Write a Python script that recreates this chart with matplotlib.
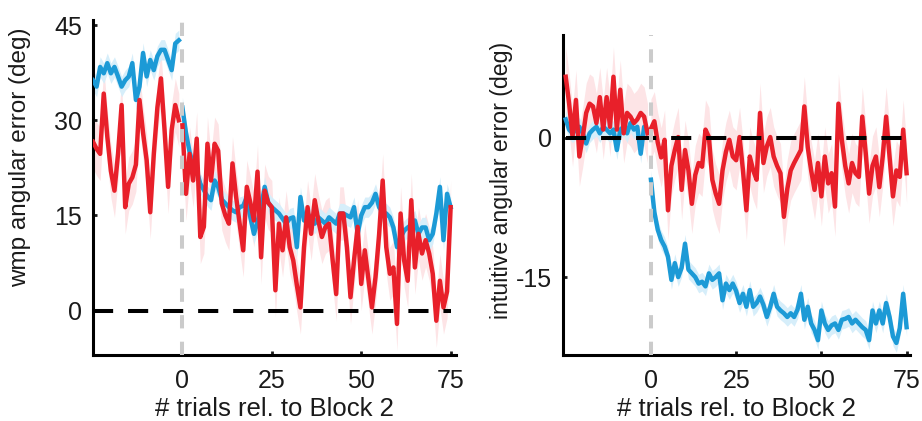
import numpy as np
import matplotlib
matplotlib.use("Agg")
import matplotlib.pyplot as plt

plt.rcParams['font.family'] = ['Liberation Sans', 'DejaVu Sans']
plt.rcParams['axes.unicode_minus'] = False

# trial indices relative to the start of Block 2
trials_pre = list(range(-25, 0))
trials_post = list(range(0, 76))

# wmp angular error (deg)
wmp_blue_pre = [36.3, 35.3, 38.4, 37.4, 39.0, 37.4, 38.4, 36.9, 35.3, 36.3,
                36.9, 39.0, 33.2, 35.3, 40.6, 36.9, 39.5, 37.9, 40.1, 41.1,
                41.1, 39.5, 37.9, 42.1, 42.6]
wmp_blue_post = [32.0, 28.0, 25.0, 23.0, 22.0, 20.0, 19.0, 18.0, 17.4, 20.5,
                 19.5, 17.5, 16.9, 16.3, 15.8, 15.5, 16.3, 16.5, 17.9, 14.7,
                 12.1, 14.0, 16.3, 19.5, 17.0, 16.3, 15.8, 15.3, 14.5, 13.7,
                 14.5, 14.7, 10.0, 17.9, 14.2, 15.3, 14.5, 13.7, 14.7, 14.2,
                 13.7, 14.7, 14.2, 13.7, 15.3, 15.3, 15.0, 14.7, 16.3, 12.1,
                 15.0, 16.3, 16.3, 17.0, 18.4, 16.3, 15.5, 15.3, 14.7, 13.1,
                 10.0, 11.5, 12.6, 13.1, 13.5, 14.2, 12.1, 13.1, 13.1, 11.1,
                 12.1, 15.3, 19.5, 11.1, 18.4, 16.3]
wmp_red_pre = [26.6, 25.5, 24.7, 34.2, 27.4, 22.0, 18.9, 24.7, 32.4, 16.3,
               20.0, 21.0, 23.0, 33.2, 28.0, 23.7, 15.5, 24.7, 32.0, 36.6,
               28.5, 19.5, 28.5, 32.4, 30.0]
wmp_red_post = [29.2, 18.4, 24.7, 20.5, 27.1, 11.6, 13.2, 26.3, 20.5, 26.3,
                25.2, 16.9, 15.0, 13.7, 23.2, 18.0, 13.7, 9.5, 19.5, 17.0,
                14.2, 21.9, 8.4, 18.9, 17.0, 16.3, 3.2, 13.7, 9.5, 14.7,
                10.0, 7.9, 4.0, 0.5, 10.0, 16.3, 12.1, 17.4, 14.2, 11.6,
                13.2, 13.7, 8.0, 2.6, 15.3, 15.3, 10.0, 2.1, 8.0, 13.2,
                4.2, 9.5, 5.0, 0.5, 5.3, 12.0, 20.5, 10.0, 5.8, 6.8,
                -2.1, 15.3, 7.9, 4.7, 17.4, 6.8, 12.1, 9.0, 11.1, 9.0,
                5.8, -1.6, 4.7, 0.5, 3.0, 16.3]

# intuitive angular error (deg)
int_blue_pre = [2.0, 0.9, 0.5, 0.9, 1.2, 0.5, -0.6, 0.5, 0.9, 1.2,
                0.5, 1.2, 0.9, 0.5, 0.9, -1.3, 0.9, 1.2, 0.5, 1.6,
                0.9, 1.2, -1.7, 1.2, 0.9]
int_blue_post = [-4.5, -8.0, -9.9, -11.0, -11.7, -12.8, -15.3, -13.5, -15.0, -14.0,
                 -11.4, -14.2, -14.6, -15.0, -15.7, -15.5, -16.0, -14.6, -15.3, -15.0,
                 -14.6, -17.5, -15.7, -16.4, -15.7, -16.5, -17.8, -16.8, -18.2, -16.4,
                 -18.2, -17.8, -17.1, -18.0, -19.3, -18.2, -16.8, -18.2, -18.6, -18.9,
                 -19.3, -18.9, -19.3, -18.5, -16.8, -19.6, -18.2, -20.0, -20.7, -21.8,
                 -18.6, -20.0, -20.7, -20.2, -20.0, -20.7, -19.6, -19.5, -19.3, -20.0,
                 -19.6, -20.0, -20.4, -20.7, -21.8, -18.6, -20.0, -18.6, -20.0, -17.8,
                 -19.3, -21.4, -22.1, -20.5, -16.8, -20.4]
int_red_pre = [6.6, 3.7, 0.1, 4.1, -2.0, 0.1, 2.7, 3.7, 3.4, 1.6,
               4.4, 0.9, 4.4, 1.2, 6.6, 0.9, 5.2, 0.5, 2.7, 2.3,
               1.6, 2.0, 2.7, 2.3, 0.5]
int_red_post = [1.0, 1.8, -0.5, -2.1, -0.2, -7.8, -3.0, -1.3, 0.1, -5.6,
                -1.3, -3.5, -7.1, -4.0, -2.7, -3.1, 0.9, 0.1, -4.5, -6.0,
                -7.1, -3.5, -1.5, -0.2, -2.0, -2.4, 0.1, -3.5, -7.8, -2.0,
                -3.5, -4.5, 2.7, -2.7, -0.9, 0.1, -2.0, -3.0, -3.8, -8.5,
                -5.5, -3.5, -2.7, -2.0, -1.3, 3.4, -1.0, -3.5, -5.6, -2.7,
                -6.3, -2.0, -4.9, -3.8, -7.4, 3.7, -0.2, -3.0, -4.9, -2.7,
                -3.8, -4.2, 2.3, -1.6, -6.0, -3.0, -2.0, -5.3, -2.0, 2.3,
                -2.0, -6.3, -3.5, -4.2, 0.9, -3.8]

# standard error half-widths of the shaded bands
sem_blue_wmp, sem_red_wmp = 1.6, 4.2
sem_blue_int, sem_red_int = 1.0, 3.2

BLUE = '#1c9ad6'
RED = '#e8202a'
BLUE_BAND = '#d6eefa'
RED_BAND = '#fde4e6'
TEXT = '#1a1a1a'
LW = 3.2

fig = plt.figure(figsize=(9.22, 4.21), dpi=100)
W, H = 922, 421


def add_axes_px(x0, x1, ytop, ybot):
    return fig.add_axes([x0 / W, 1 - ybot / H, (x1 - x0) / W, (ybot - ytop) / H])


def draw_band(ax, x, y, sem, band):
    x = np.asarray(x, float)
    y = np.asarray(y, float)
    ax.fill_between(x, y - sem, y + sem, color=band, lw=0, zorder=1)


def draw_line(ax, x, y, color, z):
    ax.plot(x, y, color=color, lw=LW, zorder=z)


def style_axes(ax):
    for s in ('top', 'right'):
        ax.spines[s].set_visible(False)
    for s in ('left', 'bottom'):
        ax.spines[s].set_linewidth(2.2)
    ax.tick_params(axis='both', width=2.0, length=3, direction='in',
                   labelsize=18, colors=TEXT)
    ax.tick_params(axis='x', pad=10)
    ax.tick_params(axis='y', pad=8)
    ax.set_xticks([0, 25, 50, 75])
    ax.set_xlabel('# trials rel. to Block 2', fontsize=18.5, labelpad=3,
                  color=TEXT)
    ax.patch.set_alpha(0)


def draw_panel(ax, red_pre, red_post, blue_pre, blue_post, sem_r, sem_b):
    draw_band(ax, trials_pre, red_pre, sem_r, RED_BAND)
    draw_band(ax, trials_post, red_post, sem_r, RED_BAND)
    draw_band(ax, trials_pre, blue_pre, sem_b, BLUE_BAND)
    draw_band(ax, trials_post, blue_post, sem_b, BLUE_BAND)
    draw_line(ax, trials_pre, blue_pre, BLUE, 3)
    draw_line(ax, trials_post, blue_post, BLUE, 3)
    draw_line(ax, trials_pre, red_pre, RED, 4)
    draw_line(ax, trials_post, red_post, RED, 4)
    ax.plot([-25, 75], [0, 0], color='black', lw=2.9, dashes=(5, 3.7), zorder=5)
    ax.axvline(0, color='#cbcbcb', lw=2.9, dashes=(3.3, 3.3), zorder=6)


# left: wmp angular error
ax1 = add_axes_px(93, 456, 20, 355)
draw_panel(ax1, wmp_red_pre, wmp_red_post, wmp_blue_pre, wmp_blue_post,
           sem_red_wmp, sem_blue_wmp)
ax1.set_xlim(-25, 76.5)
ax1.set_ylim(-7, 45.8)
ax1.set_yticks([0, 15, 30, 45])
ax1.set_ylabel('wmp angular error (deg)', fontsize=17.5, color=TEXT)
style_axes(ax1)
ax1.yaxis.set_label_coords(-62 / 363, (355 - 157) / 335)

# right: intuitive angular error
ax2 = add_axes_px(563, 910, 35, 355)
draw_panel(ax2, int_red_pre, int_red_post, int_blue_pre, int_blue_post,
           sem_red_int, sem_blue_int)
ax2.set_xlim(-25.8, 76)
ax2.set_ylim(-23.4, 11.1)
ax2.set_yticks([-15, 0])
ax2.set_ylabel('intuitive angular error (deg)', fontsize=16.7, color=TEXT)
style_axes(ax2)
ax2.yaxis.set_label_coords(-50 / 347, (355 - 180) / 320)

fig.savefig('out.png', dpi=100)
